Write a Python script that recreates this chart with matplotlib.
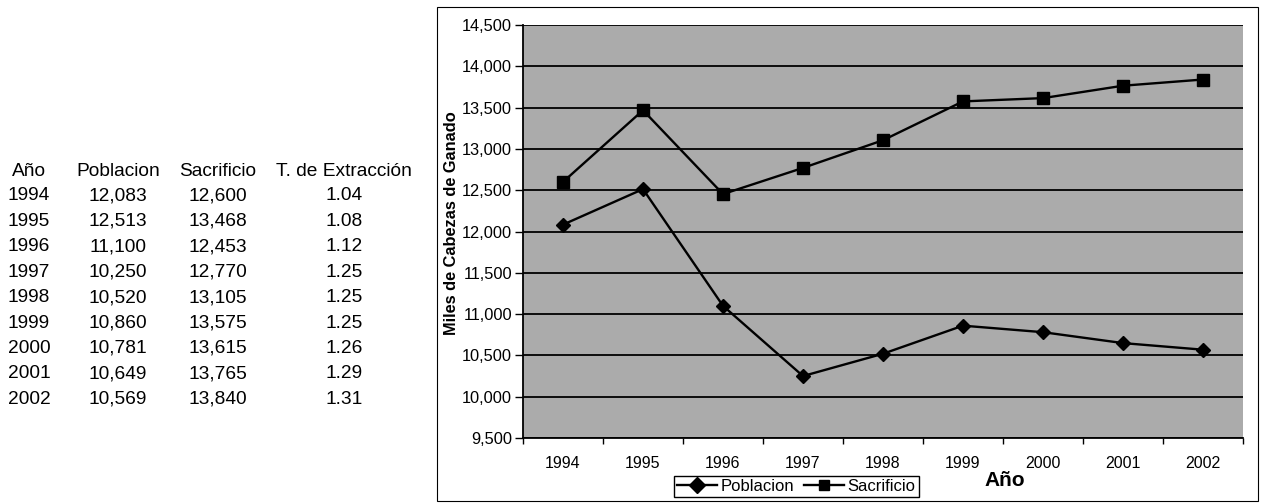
import matplotlib
matplotlib.use('Agg')
import matplotlib.pyplot as plt
from matplotlib.patches import Rectangle
from matplotlib.lines import Line2D

plt.rcParams['font.family'] = ['Liberation Sans', 'DejaVu Sans']

# datos
anios = ['1994', '1995', '1996', '1997', '1998', '1999', '2000', '2001', '2002']
poblacion = [12083, 12513, 11100, 10250, 10520, 10860, 10781, 10649, 10569]
sacrificio = [12600, 13468, 12453, 12770, 13105, 13575, 13615, 13765, 13840]
extraccion = [1.04, 1.08, 1.12, 1.25, 1.25, 1.25, 1.26, 1.29, 1.31]
encabezados = ['Año', 'Poblacion', 'Sacrificio', 'T. de Extracción']

W, H = 1265, 504
fig = plt.figure(figsize=(W / 100, H / 100), dpi=100)

# tabla a la izquierda
col_x = [29, 118, 218, 344]
fs = 13.8
for cx, txt in zip(col_x, encabezados):
    fig.text(cx / W, 1 - 171 / H, txt, ha='center', va='center', fontsize=fs)
for i in range(len(anios)):
    y = 1 - (196 + 25.4 * i) / H
    fila = [anios[i], f'{poblacion[i]:,}', f'{sacrificio[i]:,}', f'{extraccion[i]:.2f}']
    for cx, txt in zip(col_x, fila):
        fig.text(cx / W, y, txt, ha='center', va='center', fontsize=fs)

# marco del grafico
fig.patches.append(Rectangle((437 / W, 1 - 501 / H), (1258 - 437) / W, (501 - 7) / H,
                             transform=fig.transFigure, fill=False,
                             edgecolor='black', linewidth=0.8))

ax = fig.add_axes([523 / W, 1 - 438 / H, (1243 - 523) / W, (438 - 25) / H])
ax.set_facecolor('#ababab')
x = list(range(len(anios)))
ax.plot(x, poblacion, color='black', lw=1.7, marker='D', markersize=7.5, label='Poblacion')
ax.plot(x, sacrificio, color='black', lw=1.7, marker='s', markersize=8.5, label='Sacrificio')

ax.set_xlim(-0.5, len(anios) - 0.5)
ax.set_ylim(9500, 14500)
ax.set_yticks(range(9500, 14501, 500))
ax.set_yticklabels([f'{v:,}' for v in range(9500, 14501, 500)], fontsize=11.8)
ax.yaxis.grid(True, color='black', lw=1.3)
ax.set_axisbelow(True)

ax.set_xticks(x)
ax.set_xticklabels(anios, fontsize=11.5)
ax.set_xticks([i - 0.5 for i in range(len(anios) + 1)], minor=True)
ax.tick_params(axis='x', which='major', length=0, pad=13)
ax.tick_params(axis='x', which='minor', length=4, width=1, direction='out')
ax.tick_params(axis='y', length=6, width=1, direction='out', pad=2)

for s in ['top', 'right']:
    ax.spines[s].set_visible(False)
ax.spines['left'].set_linewidth(1.3)
ax.spines['bottom'].set_linewidth(1.3)

fig.text(451 / W, 1 - 223 / H, 'Miles de Cabezas de Ganado', rotation=90,
         ha='center', va='center', fontsize=11.8, fontweight='bold')
fig.text(1005 / W, 1 - 480 / H, 'Año', ha='center', va='center',
         fontsize=15, fontweight='bold')

handles = [Line2D([], [], color='black', lw=1.7, marker='D', markersize=8),
           Line2D([], [], color='black', lw=1.7, marker='s', markersize=7.5)]
fig.legend(handles, ['Poblacion', 'Sacrificio'], loc='center',
           bbox_to_anchor=(796.5 / W, 1 - 486.5 / H), ncol=2, fontsize=12,
           frameon=True, fancybox=False, edgecolor='black', framealpha=1,
           handlelength=2.4, handletextpad=0.2, columnspacing=0.6,
           borderpad=0.2, borderaxespad=0)

plt.savefig('out.png', dpi=100)
plt.close()
